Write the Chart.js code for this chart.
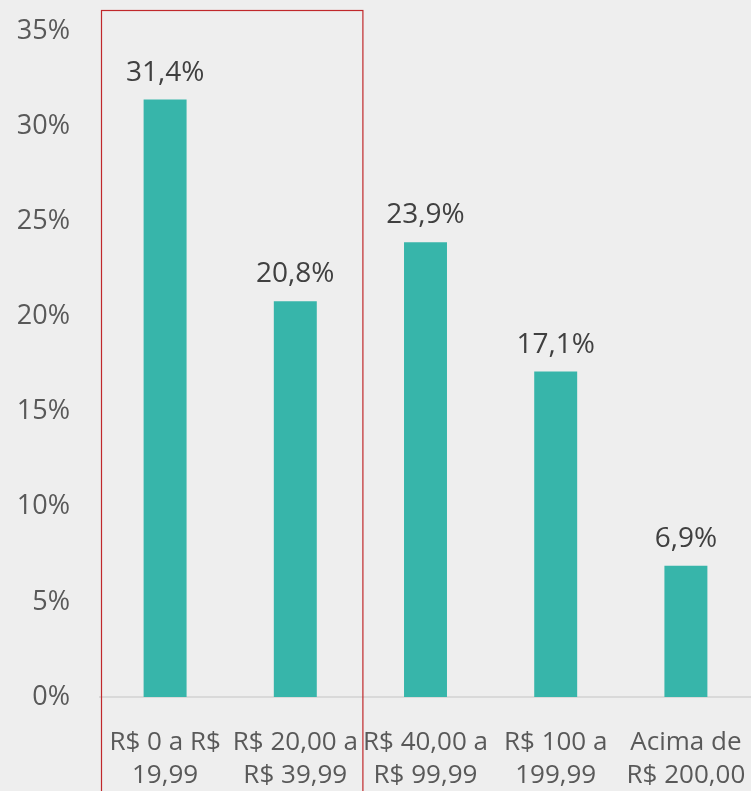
<!DOCTYPE html>
<html>
<head>
<meta charset="utf-8">
<script src="https://cdn.jsdelivr.net/npm/chart.js@4"></script>
<style>
  html, body { margin: 0; padding: 0; background: #eeeeee; }
  #wrap { width: 751px; height: 791px; position: relative; }
</style>
</head>
<body>
<div id="wrap"><canvas id="grafico_faixas"></canvas></div>
<script>
/* faixas de valor */
const faixas = [
    ['R$ 0 a R$', '19,99'],
    ['R$ 20,00 a', 'R$ 39,99'],
    ['R$ 40,00 a', 'R$ 99,99'],
    ['R$ 100 a', '199,99'],
    ['Acima de', 'R$ 200,00']
];
const percentuais = [31.4, 20.8, 23.9, 17.1, 6.9];
const ticks_y = [0, 5, 10, 15, 20, 25, 30, 35];

const fonte = "'Open Sans', 'Noto Sans', sans-serif";

/* rotulos em cima das barras */
const rotulos = {
    id: 'rotulos',
    afterDatasetsDraw(chart) {
        const ctx = chart.ctx;
        const meta = chart.getDatasetMeta(0);
        ctx.save();
        ctx.font = '28px ' + fonte;
        ctx.fillStyle = '#404040';
        ctx.textAlign = 'center';
        ctx.textBaseline = 'alphabetic';
        meta.data.forEach(function (bar, i) {
            ctx.fillText(percentuais[i].toFixed(1).replace('.', ',') + '%', bar.x, bar.y - 19);
        });
        ctx.restore();
    }
};

/* destaque vermelho nas duas primeiras faixas */
const destaque = {
    id: 'destaque',
    afterDraw(chart) {
        const x = chart.scales.x;
        const passo = x.getPixelForValue(1) - x.getPixelForValue(0);
        const esq = x.getPixelForValue(0) - passo / 2 + 1;
        const dir = x.getPixelForValue(1) + passo / 2 + 2;
        const ctx = chart.ctx;
        ctx.save();
        ctx.strokeStyle = '#c0282b';
        ctx.lineWidth = 1.2;
        ctx.strokeRect(esq + 0.5, 10.5, dir - esq, 800);
        ctx.restore();
    }
};

const config_faixas = {
    type: 'bar',
    data: {
        labels: faixas,
        datasets: [{
            label: 'Percentual',
            data: percentuais,
            backgroundColor: '#37b5aa',
            categoryPercentage: 1,
            barPercentage: 0.33
        }]
    },
    options: {
        responsive: true,
        maintainAspectRatio: false,
        animation: false,
        layout: { padding: { top: 31, right: 0, left: 0, bottom: 0 } },
        plugins: {
            legend: { display: false },
            tooltip: { enabled: false }
        },
        scales: {
            y: {
                min: 0,
                max: 35,
                afterFit(scale) {
                    scale.width = 100;
                    scale.paddingTop = 0;
                    scale.paddingBottom = 0;
                },
                afterBuildTicks(scale) {
                    scale.ticks = ticks_y.map(v => ({ value: v }));
                },
                grid: { display: false },
                border: { display: false },
                ticks: {
                    padding: 22,
                    color: '#595959',
                    font: { size: 27, family: fonte },
                    callback: v => v + '%'
                }
            },
            x: {
                afterFit(scale) {
                    scale.height = 94;
                    scale.paddingLeft = 0;
                    scale.paddingRight = 0;
                },
                grid: { display: false },
                border: { display: true, color: '#d9d9d9', width: 2 },
                ticks: {
                    padding: 21,
                    maxRotation: 0,
                    autoSkip: false,
                    color: '#595959',
                    font: { size: 26, family: fonte, lineHeight: 1.27 }
                }
            }
        }
    },
    plugins: [rotulos, destaque]
};

const grafico = new Chart(
    document.getElementById('grafico_faixas'),
    config_faixas
);
</script>
</body>
</html>
